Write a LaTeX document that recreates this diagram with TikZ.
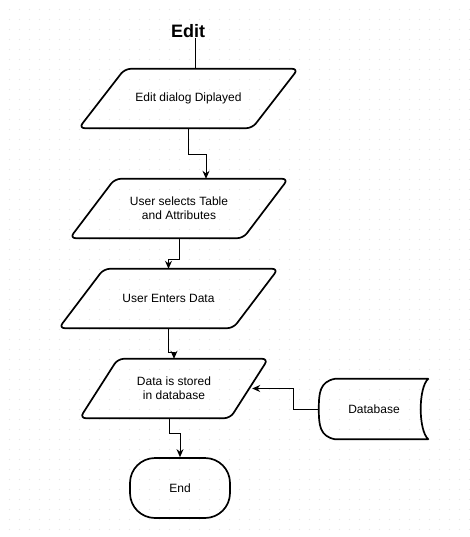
\documentclass[tikz,border=0pt]{standalone}
\usepackage{fontspec}
\setmainfont{Liberation Sans}
\usetikzlibrary{arrows.meta,calc}
\tikzset{
  pbox/.style={rectangle, inner sep=0pt, align=center, font=\fontsize{12}{14}\selectfont},
  shapeline/.style={draw=black, line width=1.7pt, rounded corners=6pt},
  conn/.style={draw=black, line width=1pt},
  arr/.style={conn, -{Stealth[length=8pt,width=7pt]}},
}
\newcommand\paraDraw[2]{\draw[shapeline] ([xshift=#2]#1.north west) -- (#1.north east) -- ([xshift=-#2]#1.south east) -- (#1.south west) -- cycle;}
\begin{document}
\begin{tikzpicture}[x=1pt,y=-1pt]
\useasboundingbox (0,0) rectangle (469,537);
\fill[white] (0,0) rectangle (469,537);
\foreach \i in {0,...,46}{\foreach \j in {0,...,53}{\fill[black!10] (9.5+10*\i,9.5+10*\j) circle (0.6);}}
% nodes
\node[pbox, font=\fontsize{18}{20}\selectfont\bfseries] (title) at (188,31) {Edit};
\node[pbox, minimum width=219pt, minimum height=59pt] (p1) at (188.5,98.5) {Edit dialog Diplayed};
\node[pbox, minimum width=218pt, minimum height=59pt] (p2) at (179,208.5) {User selects Table\\ and Attributes};
\node[pbox, minimum width=219pt, minimum height=59pt] (p3) at (168.5,298.5) {User Enters Data};
\node[pbox, minimum width=188pt, minimum height=59pt] (p4) at (174,388.5) {Data is stored\\ in database};
\node[pbox, minimum width=110pt, minimum height=60pt] (db) at (374,409) {Database};
\node[pbox, draw=black, line width=1.7pt, rounded corners=25pt, minimum width=100pt, minimum height=60pt] (end) at (180,488) {End};
\paraDraw{p1}{46pt}
\paraDraw{p2}{45pt}
\paraDraw{p3}{45pt}
\paraDraw{p4}{38pt}
% database shape
\draw[draw=black, line width=1.7pt, line join=round]
  ([xshift=-1pt]db.north east) -- ([xshift=16pt]db.north west)
  .. controls ([xshift=1pt,yshift=-3pt]db.north west) and ([yshift=-14pt]db.north west) .. (db.west)
  .. controls ([yshift=14pt]db.south west) and ([xshift=1pt,yshift=3pt]db.south west) .. ([xshift=16pt]db.south west)
  -- ([xshift=-1pt]db.south east)
  .. controls ([xshift=-11pt,yshift=9pt]db.south east) and ([xshift=-11pt,yshift=-9pt]db.north east) .. ([xshift=-1pt]db.north east) -- cycle;
\coordinate (p4tip) at ([xshift=-16pt]p4.east);
% connectors
\draw[conn] ([xshift=7pt]title.south) -- ([xshift=7pt]title.south |- p1.north);
\draw[arr] (p1.south) -- ++(0,26) -| ([xshift=27pt]p2.north);
\draw[arr] (p2.south) -- ++(0,21) -| (p3.north);
\draw[arr] (p3.south) -- ++(0,24) -| (p4.north);
\draw[arr] ([xshift=-5pt]p4.south) -- ++(0,15) -| (end.north);
\draw[arr] (db.west) -- ++(-25,0) |- (p4tip);
\end{tikzpicture}
\end{document}
